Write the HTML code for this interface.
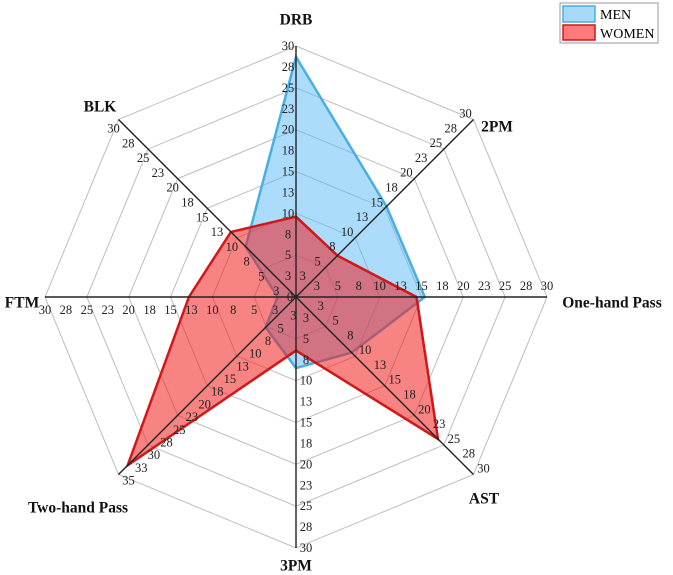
<!DOCTYPE html>
<html><head><meta charset="utf-8"><style>
body{margin:0;background:#fff}
svg{display:block;font-family:"Liberation Serif",serif}
</style></head><body>
<svg id="chart" width="673" height="575" viewBox="0 0 673 575">
<g id="grid"></g>
<g id="series"></g>
<g id="axes"></g>
<g id="ticks" font-size="12.5" fill="#222"></g>
<g id="axlabels" font-size="15.5" font-weight="bold" fill="#111"></g>
<g>
<rect x="560" y="3" width="98" height="40" fill="#fff" stroke="#999" stroke-width="1"/>
<rect x="563" y="6" width="32" height="16" fill="#a8daf8" stroke="#4aaee0" stroke-width="1.5"/>
<text x="600" y="19" font-size="14">MEN</text>
<rect x="563" y="25" width="32" height="15" fill="#ff7a7a" stroke="#d01818" stroke-width="1.5"/>
<text x="600" y="38" font-size="14">WOMEN</text>
</g>
</svg>
<script>
const axesNames = ["DRB","2PM","One-hand Pass","AST","3PM","Two-hand Pass","FTM","BLK"];
const axisMax = [30,30,30,30,30,35,30,30];
const tickLabels = ["0","3","5","8","10","13","15","18","20","23","25","28","30","33","35"];
const tickValues = [0,2.5,5,7.5,10,12.5,15,17.5,20,22.5,25,27.5,30,32.5,35];
const menValues = [28.7,15.3,15.4,9.4,8.5,6,2.2,8.5];
const womenValues = [9.6,7,14.4,24,6.4,33.2,12.8,11];

const NS="http://www.w3.org/2000/svg";
const cx=296, cy=297, R=251;
const labelOff=[[-8,0],[-8,-6],[0,-11],[10,-6],[10,0],[10,6],[0,13],[-5,9]];
const labelPos=[[296,20,"middle"],[497,127,"middle"],[612,303,"middle"],[484,499,"middle"],[296,566,"middle"],[78,508,"middle"],[22,303,"middle"],[100,107,"middle"]];
function ang(i){return -Math.PI/2+i*Math.PI/4;}
function pt(i,v){const r=v/axisMax[i]*R;return [cx+r*Math.cos(ang(i)),cy+r*Math.sin(ang(i))];}
function frac(i,f){const r=f*R;return [cx+r*Math.cos(ang(i)),cy+r*Math.sin(ang(i))];}
function mk(tag,attrs,parent){const e=document.createElementNS(NS,tag);for(const k in attrs)e.setAttribute(k,attrs[k]);parent.appendChild(e);return e;}

const grid=document.getElementById('grid');
for(let k=1;k<=6;k++){
  const p=axesNames.map((_,i)=>frac(i,k/6).join(',')).join(' ');
  const g=mk('polygon',{points:p,fill:'none',stroke:'#bdbdbd','stroke-width':1},grid);
  
  
}
const series=document.getElementById('series');
function poly(vals,fill,stroke,name){
  const p=vals.map((v,i)=>pt(i,v).join(',')).join(' ');
  const e=mk('polygon',{points:p,fill:fill,stroke:stroke,'stroke-width':2.5,'stroke-linejoin':'miter'},series);
  
  
}
poly(menValues,'rgba(90,185,250,0.5)','#4aaee0','men-series');
poly(womenValues,'rgba(240,30,30,0.55)','#d01818','women-series');

const axes=document.getElementById('axes');
const ticks=document.getElementById('ticks');
const axl=document.getElementById('axlabels');
axesNames.forEach((n,i)=>{
  const e=frac(i,1);
  const l=mk('line',{x1:cx,y1:cy,x2:e[0],y2:e[1],stroke:'#222','stroke-width':1.4},axes);
  
  
  tickValues.forEach((tv,j)=>{
    if(tv>axisMax[i])return;
    if(tv===0&&i!==0)return;
    const p=pt(i,tv);
    const t=mk('text',{x:p[0]+(tv===0?-6:labelOff[i][0]),y:p[1]+(tv===0?0:labelOff[i][1]),'text-anchor':'middle','dominant-baseline':'central'},ticks);
    t.textContent=tickLabels[j];
    
    
  });
  const lp=labelPos[i];
  const a=mk('text',{x:lp[0],y:lp[1],'text-anchor':lp[2],'dominant-baseline':'central'},axl);
  a.textContent=n;
  
  
});
</script>
</body></html>
